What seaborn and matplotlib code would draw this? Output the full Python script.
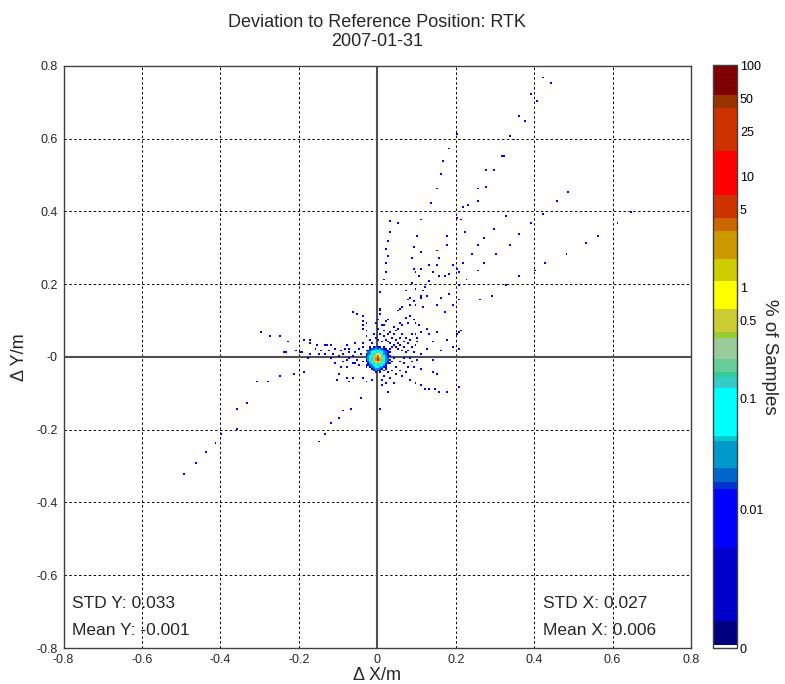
import numpy as np
import pandas as pd
import matplotlib
matplotlib.use('Agg')
import matplotlib.pyplot as plt
from matplotlib.colors import ListedColormap
from matplotlib import font_manager
import seaborn as sns

# single-sample bins (metres)
ne_arm = [(0.423, 0.767), (0.440, 0.752), (0.394, 0.721), (0.409, 0.702), (0.364, 0.663), (0.379, 0.647),
          (0.201, 0.612), (0.339, 0.608), (0.349, 0.598), (0.183, 0.573), (0.168, 0.538), (0.164, 0.502),
          (0.153, 0.463), (0.139, 0.423), (0.315, 0.553), (0.324, 0.553), (0.279, 0.513), (0.299, 0.513),
          (0.255, 0.463), (0.279, 0.468), (0.255, 0.428), (0.219, 0.413), (0.234, 0.418), (0.489, 0.453),
          (0.459, 0.428), (0.649, 0.398), (0.610, 0.368), (0.564, 0.334), (0.530, 0.313), (0.484, 0.284),
          (0.429, 0.255), (0.400, 0.238), (0.424, 0.394), (0.394, 0.368), (0.364, 0.339), (0.339, 0.309),
          (0.303, 0.284), (0.274, 0.258), (0.255, 0.238), (0.229, 0.214), (0.208, 0.198), (0.364, 0.220),
          (0.328, 0.388), (0.298, 0.353), (0.274, 0.329), (0.259, 0.309), (0.244, 0.284), (0.219, 0.258),
          (0.220, 0.343), (0.213, 0.378), (0.201, 0.384), (0.208, 0.234), (0.202, 0.244), (0.194, 0.254),
          (0.328, 0.199), (0.294, 0.169), (0.264, 0.155), (0.208, 0.155)]

mid_ne = [(0.034, 0.373), (0.054, 0.368), (0.114, 0.378), (0.033, 0.343), (0.104, 0.334), (0.178, 0.334),
          (0.029, 0.318), (0.094, 0.304), (0.178, 0.309), (0.024, 0.298), (0.114, 0.288), (0.153, 0.293),
          (0.029, 0.279), (0.088, 0.274), (0.158, 0.274), (0.134, 0.254), (0.153, 0.254), (0.024, 0.258),
          (0.094, 0.244), (0.114, 0.244), (0.099, 0.234), (0.105, 0.224), (0.143, 0.234), (0.157, 0.224),
          (0.170, 0.224), (0.183, 0.229), (0.024, 0.234), (0.019, 0.214), (0.085, 0.204), (0.099, 0.189),
          (0.118, 0.184), (0.124, 0.194), (0.074, 0.182), (0.081, 0.160), (0.093, 0.153), (0.113, 0.160),
          (0.007, 0.175), (0.132, 0.206), (0.112, 0.167), (0.128, 0.166), (0.077, 0.156), (0.083, 0.140),
          (0.098, 0.142), (0.119, 0.137), (0.150, 0.143), (0.164, 0.161), (0.184, 0.170), (0.190, 0.140),
          (0.060, 0.135), (0.055, 0.131), (0.008, 0.131), (0.008, 0.119), (0.205, 0.065), (0.213, 0.073)]

near_ne = [(0.054, 0.076), (0.062, 0.085), (0.073, 0.106), (0.075, 0.094), (0.083, 0.112), (0.092, 0.101),
           (0.096, 0.090), (0.109, 0.087), (0.126, 0.076), (0.113, 0.067), (0.130, 0.064), (0.151, 0.068),
           (0.170, 0.120), (0.202, 0.064), (0.177, 0.046), (0.096, 0.062), (0.100, 0.051), (0.012, 0.085),
           (0.018, 0.072), (0.025, 0.060), (0.030, 0.068), (0.035, 0.052), (0.040, 0.060), (0.045, 0.045),
           (0.048, 0.070), (0.050, 0.038), (0.055, 0.050), (0.058, 0.032), (0.062, 0.060), (0.065, 0.042),
           (0.068, 0.028), (0.070, 0.052), (0.075, 0.035), (0.080, 0.045), (0.085, 0.025), (0.088, 0.060),
           (0.040, 0.030), (0.045, 0.025), (0.030, 0.035), (0.035, 0.028), (0.025, 0.040), (0.020, 0.048),
           (0.015, 0.055), (0.052, 0.020), (0.060, 0.015), (0.072, 0.012), (0.078, 0.018), (0.090, 0.010),
           (0.095, 0.030), (0.100, 0.040), (0.005, 0.060), (0.002, 0.045), (-0.005, 0.050), (0.010, 0.040),
           (0.042, 0.080), (0.058, 0.090), (0.028, 0.100), (0.020, 0.095), (0.190, 0.027), (0.209, 0.020),
           (0.145, 0.044), (0.160, 0.015), (0.125, 0.020), (0.110, 0.008), (0.140, -0.010)]

north = [(-0.061, 0.124), (-0.053, 0.115), (-0.040, 0.111), (-0.038, 0.095), (-0.036, 0.085), (-0.027, 0.071),
         (-0.027, 0.059), (-0.026, 0.090), (-0.039, 0.076), (0.007, 0.129), (0.004, 0.103), (0.015, 0.085),
         (0.054, 0.129), (-0.020, 0.045), (-0.015, 0.035), (-0.010, 0.060), (0.000, 0.075), (-0.005, 0.090)]

west = [(-0.297, 0.065), (-0.271, 0.059), (-0.246, 0.055), (-0.228, 0.044), (-0.240, 0.010), (-0.232, 0.010),
        (-0.206, 0.015), (-0.197, 0.010), (-0.190, 0.045), (-0.172, 0.049), (-0.172, 0.037), (-0.177, -0.004),
        (-0.172, 0.005), (-0.155, 0.031), (-0.150, 0.005), (-0.134, 0.032), (-0.126, 0.032), (-0.116, 0.030),
        (-0.109, 0.023), (-0.133, 0.005), (-0.112, 0.009), (-0.195, 0.012), (-0.100, 0.000), (-0.095, 0.015),
        (-0.090, 0.005), (-0.085, 0.020), (-0.080, -0.010), (-0.075, 0.010), (-0.070, 0.020), (-0.065, 0.000),
        (-0.060, 0.012), (-0.055, -0.008), (-0.050, 0.020), (-0.045, 0.005), (-0.040, -0.015), (-0.048, -0.025),
        (-0.035, 0.025), (-0.030, -0.030), (-0.038, 0.035), (-0.060, 0.035), (-0.080, 0.030), (-0.120, -0.005),
        (-0.140, 0.015), (-0.160, 0.020), (-0.125, 0.015)]

south = [(-0.491, -0.323), (-0.461, -0.294), (-0.437, -0.264), (-0.412, -0.239), (-0.397, -0.215),
         (-0.356, -0.199), (-0.360, -0.140), (-0.331, -0.130), (-0.306, -0.069), (-0.276, -0.066),
         (-0.246, -0.055), (-0.215, -0.049), (-0.186, -0.044), (-0.147, -0.234), (-0.131, -0.214),
         (-0.116, -0.184), (-0.096, -0.169), (-0.087, -0.149), (-0.066, -0.140), (-0.041, -0.114),
         (0.007, -0.144), (0.029, -0.099), (-0.105, -0.064), (-0.078, -0.058), (-0.061, -0.057),
         (-0.040, -0.057), (-0.027, -0.066), (-0.014, -0.064), (-0.108, -0.020), (-0.075, -0.068),
         (-0.096, -0.046), (-0.091, -0.029), (-0.076, -0.029), (-0.065, -0.018), (-0.058, -0.018),
         (-0.087, -0.014), (-0.071, -0.005)]

south_east = [(0.083, -0.061), (0.098, -0.070), (0.111, -0.078), (0.120, -0.086), (0.132, -0.090),
              (0.149, -0.090), (0.158, -0.097), (0.179, -0.099), (0.145, -0.043), (0.153, -0.047),
              (0.209, -0.084), (0.094, -0.029), (0.113, -0.031), (0.066, -0.020), (0.056, -0.011),
              (0.049, -0.029), (0.037, -0.038), (0.070, -0.045), (0.060, -0.055), (0.045, -0.050),
              (0.030, -0.060), (0.040, -0.070), (0.020, -0.075), (0.055, -0.035), (0.075, -0.030),
              (0.085, -0.015), (0.100, -0.010), (0.065, -0.005), (0.080, -0.005), (0.035, -0.015),
              (0.040, -0.005), (0.025, -0.045), (0.015, -0.055), (0.010, -0.080), (0.012, -0.065)]

single_pct = 0.01

# dense core, % of samples per 5 mm cell
core_xc = [-0.0275, -0.0225, -0.0175, -0.0125, -0.0075, -0.0025, 0.0025, 0.0075, 0.0125, 0.0175, 0.0225,
           0.0275, 0.0325]
core_yc = [0.0275, 0.0225, 0.0175, 0.0125, 0.0075, 0.0025, -0.0025, -0.0075, -0.0125, -0.0175, -0.0225,
           -0.0275, -0.0325, -0.0375, -0.0425]
core_pct = [
    [0, 0, 0.01, 0, 0.01, 0.02, 0.01, 0.01, 0, 0.01, 0, 0, 0],
    [0, 0, 0.01, 0.02, 0.02, 0.03, 0.02, 0.03, 0.02, 0.01, 0.01, 0, 0.01],
    [0.01, 0.01, 0.02, 0.03, 0.05, 0.06, 0.07, 0.05, 0.03, 0.02, 0.01, 0.01, 0],
    [0, 0.02, 0.03, 0.05, 0.08, 0.12, 0.14, 0.08, 0.05, 0.03, 0.02, 0.01, 0.01],
    [0.01, 0.02, 0.04, 0.07, 0.15, 0.4, 0.7, 0.25, 0.08, 0.04, 0.02, 0.01, 0],
    [0.01, 0.03, 0.05, 0.11, 0.3, 1.3, 3.5, 0.9, 0.18, 0.06, 0.03, 0.01, 0.01],
    [0.02, 0.03, 0.06, 0.13, 0.45, 2.0, 5.5, 1.6, 0.3, 0.09, 0.03, 0.02, 0],
    [0.01, 0.03, 0.07, 0.14, 0.4, 2.6, 12.0, 2.0, 0.35, 0.11, 0.04, 0.02, 0.01],
    [0.01, 0.02, 0.05, 0.10, 0.25, 0.9, 1.4, 0.7, 0.2, 0.07, 0.03, 0.01, 0],
    [0, 0.01, 0.03, 0.07, 0.14, 0.3, 0.4, 0.22, 0.1, 0.05, 0.02, 0.01, 0.01],
    [0.01, 0.01, 0.02, 0.04, 0.08, 0.12, 0.14, 0.09, 0.05, 0.03, 0.01, 0, 0],
    [0, 0, 0.01, 0.02, 0.04, 0.06, 0.07, 0.04, 0.03, 0.01, 0.01, 0, 0],
    [0, 0, 0, 0.01, 0.02, 0.03, 0.03, 0.02, 0.01, 0, 0.01, 0, 0],
    [0, 0, 0, 0, 0.01, 0.02, 0.01, 0.01, 0, 0.01, 0, 0, 0],
    [0, 0, 0, 0, 0, 0.01, 0, 0.01, 0, 0, 0, 0, 0],
]

# colour bands of the colour bar (upper edge in log10 %)
band_tops = [-3.213, -3.003, -2.342, -1.814, -1.748, -1.627, -1.378, -1.336, -0.906, -0.805, -0.762,
             -0.645, -0.456, -0.402, -0.195, 0.054, 0.259, 0.505, 0.625, 0.829, 1.225, 1.61, 1.73, 2.0]
band_colors = ['#ffffff', '#000080', '#0000cc', '#0000ff', '#0033cc', '#0066cc', '#0099cc', '#00cccc',
               '#00ffff', '#33cccc', '#33cc99', '#66cc99', '#99cc99', '#99cc33', '#cccc33', '#ffff00',
               '#cccc00', '#cc9900', '#cc6600', '#cc3300', '#ff0000', '#cc3300', '#993300', '#800000']
cbar_ticks = [0, 0.01, 0.1, 0.5, 1, 5, 10, 25, 50, 100]
cbar_labels = ['0', '0.01', '0.1', '0.5', '1', '5', '10', '25', '50', '100']

axis_ticks = [-0.8, -0.6, -0.4, -0.2, 0, 0.2, 0.4, 0.6, 0.8]
x_ticklabels = ['-0.8', '-0.6', '-0.4', '-0.2', '0', '0.2', '0.4', '0.6', '0.8']
y_ticklabels = ['-0.8', '-0.6', '-0.4', '-0.2', '-0', '0.2', '0.4', '0.6', '0.8']

std_y, mean_y = '0.033', '-0.001'
std_x, mean_x = '0.027', '0.006'

LOG_FLOOR = -3.243
BIN = 0.005

# build the cell table
rows = []
for region in [ne_arm, mid_ne, near_ne, north, west, south, south_east]:
    for px, py in region:
        rows.append((px, py, single_pct))
for j, yc in enumerate(core_yc):
    for i, xc in enumerate(core_xc):
        if core_pct[j][i] > 0:
            rows.append((xc, yc, core_pct[j][i]))
df = pd.DataFrame(rows, columns=['x', 'y', 'pct'])
df['x'] = (np.floor(df['x'] / BIN) + 0.5) * BIN
df['y'] = (np.floor(df['y'] / BIN) + 0.5) * BIN
df = df.groupby(['x', 'y'], as_index=False)['pct'].sum()
df['level'] = np.log10(df['pct']) - LOG_FLOOR

top_level = band_tops[-1] - LOG_FLOOR
n = 2000
lv = (np.arange(n) + 0.5) / n * top_level + LOG_FLOOR
idx = np.clip(np.searchsorted(band_tops, lv), 0, len(band_colors) - 1)
cmap = ListedColormap([band_colors[k] for k in idx])

sns.set_style('white')
names = {f.name for f in font_manager.fontManager.ttflist}
base_font = 'Liberation Sans' if 'Liberation Sans' in names else 'DejaVu Sans'
tick_font = 'Liberation Sans Narrow' if 'Liberation Sans Narrow' in names else base_font
plt.rcParams['font.family'] = [base_font, 'DejaVu Sans']

fig = plt.figure(figsize=(7.85, 6.84), dpi=100)
ax = fig.add_axes([0.0809, 0.0526, 0.7994, 0.8513])
cax = fig.add_axes([0.9083, 0.0526, 0.0306, 0.8523])

# zero lines first so the core sits over them
ax.axhline(0, color='#505050', linewidth=1.5, zorder=0.8)
ax.axvline(0, color='#505050', linewidth=1.5, zorder=0.8)

sns.histplot(x=df['x'], y=df['y'], weights=df['level'], bins=320,
             binrange=((-0.8, 0.8), (-0.8, 0.8)), cmap=cmap, vmin=0, vmax=top_level,
             cbar=True, cbar_ax=cax, ax=ax)

ax.set_xlim(-0.8, 0.8)
ax.set_ylim(-0.8, 0.8)
ax.grid(True, color='black', linestyle=(0, (2.5, 2.5)), linewidth=0.7)
ax.set_axisbelow(True)
for s in ax.spines.values():
    s.set_color('#404040')
    s.set_linewidth(1.0)

ax.set_xticks(axis_ticks)
ax.set_yticks(axis_ticks)
ax.set_xticklabels(x_ticklabels, fontfamily=tick_font)
ax.set_yticklabels(y_ticklabels, fontfamily=tick_font)
ax.tick_params(direction='in', length=0, labelsize=9, pad=4)

ax.set_xlabel('\u0394 X/m', fontsize=13, labelpad=1)
ax.set_ylabel('\u0394 Y/m', fontsize=13, labelpad=6)
ax.set_title('Deviation to Reference Position: RTK\n2007-01-31', fontsize=13, pad=14)

ax.text(-0.778, -0.677, 'STD Y: ' + std_y, fontsize=12.5, va='center', ha='left', zorder=5)
ax.text(-0.778, -0.753, 'Mean Y: ' + mean_y, fontsize=12.5, va='center', ha='left', zorder=5)
ax.text(0.4225, -0.677, 'STD X: ' + std_x, fontsize=12.5, va='center', ha='left', zorder=5)
ax.text(0.4225, -0.753, 'Mean X: ' + mean_x, fontsize=12.5, va='center', ha='left', zorder=5)

tick_levels = [0 if v == 0 else np.log10(v) - LOG_FLOOR for v in cbar_ticks]
cax.set_yticks(tick_levels)
cax.set_yticklabels(cbar_labels, fontfamily=tick_font)
cax.tick_params(axis='y', direction='in', left=True, right=True, length=4, width=0.8,
                labelsize=9, pad=2, colors='black')
cax.set_ylabel('% of Samples', fontsize=13.5, rotation=270, labelpad=10)
for s in cax.spines.values():
    s.set_color('#404040')
    s.set_linewidth(1.0)

plt.savefig('out.png', dpi=100)
